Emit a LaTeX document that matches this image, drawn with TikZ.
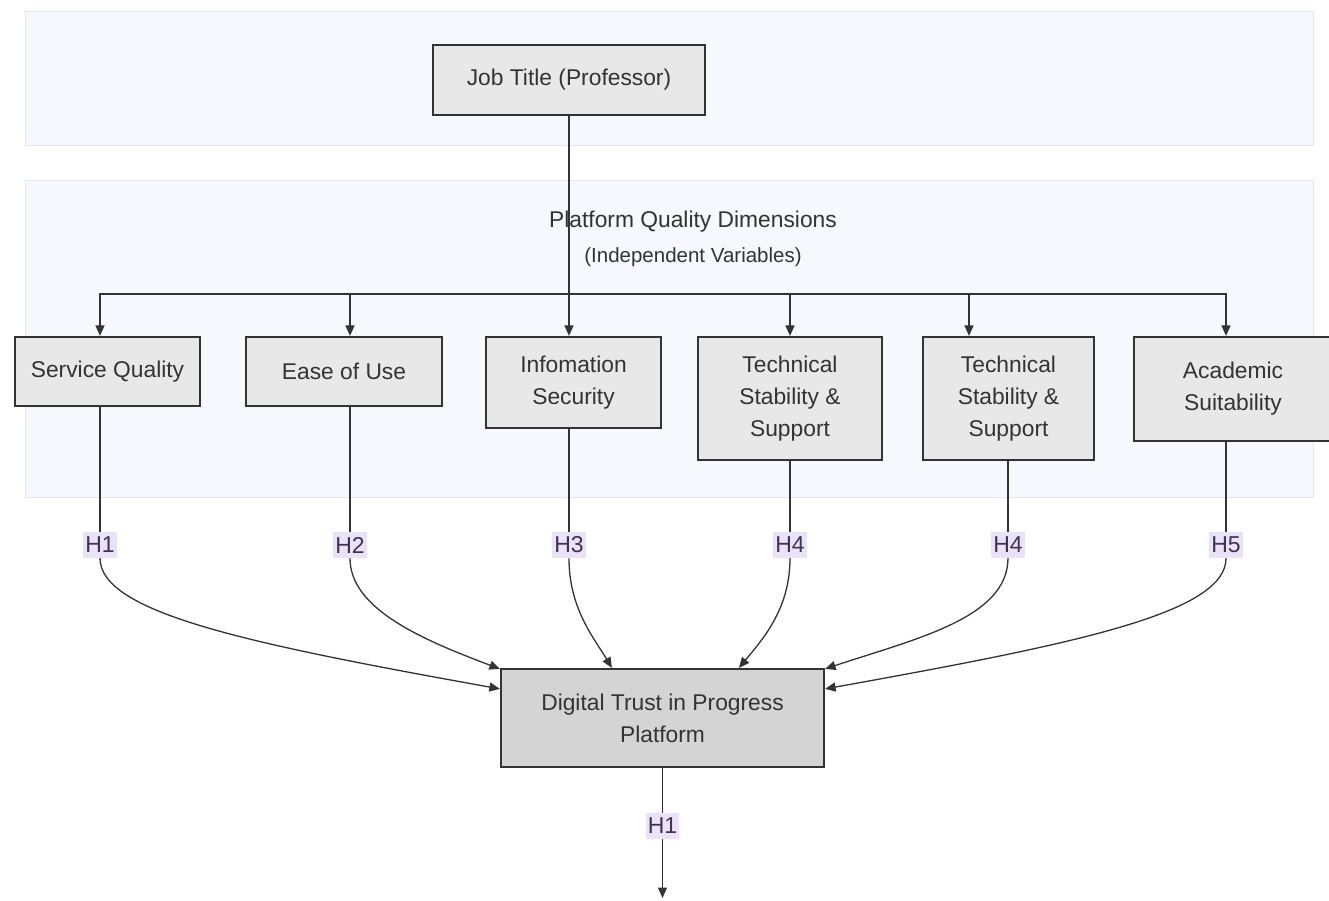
\documentclass[tikz,border=0pt]{standalone}
\usepackage{fontspec}
\setmainfont{Liberation Sans}
\usetikzlibrary{arrows.meta}

\definecolor{bandfill}{HTML}{F6F8FD}
\definecolor{bandline}{HTML}{E1E6F3}
\definecolor{boxfill}{HTML}{E8E8E8}
\definecolor{mainfill}{HTML}{D4D4D4}
\definecolor{inkgray}{HTML}{333333}
\definecolor{hypfill}{HTML}{EBE1F8}
\definecolor{hypink}{HTML}{3E3350}

\begin{document}
\begin{tikzpicture}[x=1pt, y=-1pt, >={Triangle[length=10.5pt,width=9pt]},
    every node/.style={font=\fontsize{22.8}{32}\selectfont, text=inkgray},
    var/.style={draw=inkgray, line width=2.2pt, fill=boxfill, align=center, inner sep=0pt},
    hyp/.style={fill=hypfill, text=hypink, inner xsep=2pt, inner ysep=5pt,
      font=\fontsize{23}{28}\selectfont},
    link/.style={draw=inkgray, line width=1.3pt},
    arr/.style={link, ->}]

  \clip (0,0) rectangle (1329,901);
  \fill[white] (0,0) rectangle (1329,901);

  % Background bands
  \filldraw[fill=bandfill, draw=bandline, line width=1pt] (25,12) rectangle (1313,146);
  \filldraw[fill=bandfill, draw=bandline, line width=1pt] (25,181) rectangle (1313,497);
  \node[align=center] (band) at (693,239) {Platform Quality Dimensions\\[3pt]
    {\fontsize{20.5}{30}\selectfont (Independent Variables)}};

  % Boxes
  \node[var, minimum width=272pt, minimum height=70pt] (job) at (569,80) {Job Title (Professor)};
  \node[var, minimum width=185pt, minimum height=69pt] (sq) at (107.5,371.5) {Service Quality};
  \node[var, minimum width=196pt, minimum height=69pt] (eou) at (344,371.5) {Ease of Use};
  \node[var, minimum width=175pt, minimum height=91pt] (info) at (573.5,382.5) {Infomation\\Security};
  \node[var, minimum width=184pt, minimum height=123pt] (techa) at (790,398.5) {Technical\\Stability \&\\Support};
  \node[var, minimum width=171pt, minimum height=123pt] (techb) at (1008.5,398.5) {Technical\\Stability \&\\Support};
  \node[var, minimum width=198pt, minimum height=104pt] (acad) at (1233,389) {Academic\\Suitability};
  \node[var, fill=mainfill, minimum width=323pt, minimum height=98pt] (trust) at (662.5,718) {Digital Trust in Progress\\Platform};

  % Job title fans out to the dimensions
  \coordinate (bus) at (569,294);
  \draw[link] (job.south) -- (bus);
  \foreach \t/\dx in {sq/-7.5, eou/6, info/-4.5, techa/0, techb/-39.5, acad/-7}
    \draw[arr] (bus) -| ([xshift=\dx pt]\t.north);

  % Hypothesis labels
  \node[hyp] (h1) at (100,545) {H1};
  \node[hyp] (h2) at (350,545) {H2};
  \node[hyp] (h3) at (569,545) {H3};
  \node[hyp] (h4) at (790,545) {H4};
  \node[hyp] (h4b) at (1008,545) {H4};
  \node[hyp] (h5) at (1226,545) {H5};
  \node[hyp] (h6) at (662.5,826) {H1};

  \draw[link] ([xshift=-7.5pt]sq.south) -- (h1);
  \draw[link] ([xshift=6pt]eou.south) -- (h2);
  \draw[link] ([xshift=-4.5pt]info.south) -- (h3);
  \draw[link] (techa.south) -- (h4);
  \draw[link] ([xshift=-0.5pt]techb.south) -- (h4b);
  \draw[link] ([xshift=-7pt]acad.south) -- (h5);

  \draw[arr] (h1.south) .. controls +(0,55) and +(-250,-45) .. ([yshift=-21pt]trust.north west);
  \draw[arr] (h2.south) .. controls +(0,50) and +(-80,-30) .. ([yshift=-1pt]trust.north west);
  \draw[arr] (h3.south) .. controls +(0,50) and +(-18,-30) .. ([xshift=112pt]trust.north west);
  \draw[arr] (h4.south) .. controls +(0,50) and +(25,-30) .. ([xshift=239pt]trust.north west);
  \draw[arr] (h4b.south) .. controls +(0,60) and +(90,-30) .. ([yshift=-1pt]trust.north east);
  \draw[arr] (h5.south) .. controls +(0,55) and +(250,-45) .. ([yshift=-21pt]trust.north east);

  % Outcome
  \coordinate (out) at (662.5,898);
  \draw[link] (trust.south) -- (h6);
  \draw[arr] (h6) -- (out);

\end{tikzpicture}
\end{document}
